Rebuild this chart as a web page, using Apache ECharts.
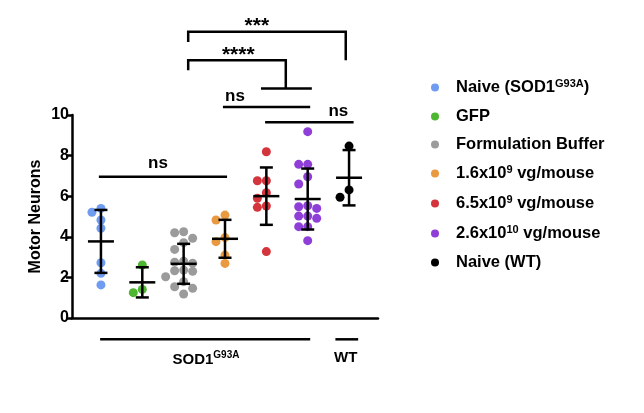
<!DOCTYPE html>
<html><head><meta charset="utf-8">
<script src="https://cdn.jsdelivr.net/npm/echarts@6/dist/echarts.min.js"></script>
<style>html,body{margin:0;padding:0;background:#fff}#c{width:644px;height:413px}</style>
</head><body><div id="c"></div>
<script>
// ---------- data ----------
const groupNames = ['Naive (SOD1^{G93A})', 'GFP', 'Formulation Buffer', '1.6x10^{9} vg/mouse', '6.5x10^{9} vg/mouse', '2.6x10^{10} vg/mouse', 'Naive (WT)'];
const naiveSOD1 = [5.40, 5.21, 4.83, 4.42, 2.72, 2.20, 1.63];
const gfp = [2.61, 1.41, 1.25];
const formulationBuffer = [4.25, 4.20, 3.93, 3.71, 3.38, 2.80, 2.75, 2.70, 2.36, 2.30, 2.33, 2.03, 1.79, 1.54, 1.46, 1.18];
const dose1_6e9 = [5.07, 4.83, 3.96, 3.76, 3.10, 2.69];
const dose6_5e9 = [8.19, 6.76, 6.76, 6.17, 5.90, 5.52, 5.45, 3.27];
const dose2_6e10 = [9.18, 7.57, 7.57, 6.96, 6.60, 5.53, 5.48, 5.40, 5.02, 5.02, 4.91, 4.50, 4.50, 3.81];
const naiveWT = [8.47, 6.31, 5.95];
const yTickValues = [0, 2, 4, 6, 8, 10];
const groupColors = ['#6f9cf0', '#4fb631', '#9b9b9b', '#e99a40', '#d4343b', '#8f3fd8', '#000000'];

// significance annotations (group index on x, Motor Neurons value on y)
const sigLines = [
  {text: 'ns',   paths: [[[0.95, 6.96], [4.05, 6.96]]], labelAt: [2.38, 7.62]},
  {text: 'ns',   paths: [[[3.95, 10.40], [6.06, 10.40]]], labelAt: [4.24, 10.92]},
  {text: 'ns',   paths: [[[4.97, 9.64], [7.11, 9.64]]], labelAt: [6.74, 10.18]},
  {text: '****', paths: [[[4.87, 11.30], [6.10, 11.30]], [[5.47, 11.30], [5.47, 12.70], [3.11, 12.70], [3.11, 12.20]]], labelAt: [4.32, 12.88]},
  {text: '***',  paths: [[[3.11, 13.60], [3.11, 14.10], [6.92, 14.10], [6.92, 12.70]]], labelAt: [4.77, 14.32]}
];
const genotypeLabels = [
  {text: 'SOD1^{G93A}', span: [0.98, 6.06], level: -1.05, labelAt: [3.54, -2.07]},
  {text: 'WT', span: [6.67, 7.22], level: -1.05, labelAt: [6.92, -1.95]}
];

const allGroups = [naiveSOD1, gfp, formulationBuffer, dose1_6e9, dose6_5e9, dose2_6e10, naiveWT];

// ---------- helpers ----------
const FONT = '"Liberation Sans", Arial, Helvetica, sans-serif';
function toRich(s) {
  const parts = s.split(/\^\{([^}]*)\}/);
  return parts.map((p, i) => p === '' ? '' : (i % 2 ? '{sup|' + p + '}' : '{b|' + p + '}')).join('');
}
function mean(a) { return a.reduce((s, v) => s + v, 0) / a.length; }
function sd(a) { const m = mean(a); return Math.sqrt(a.reduce((s, v) => s + (v - m) * (v - m), 0) / (a.length - 1)); }

const chart = echarts.init(document.getElementById('c'), null, {renderer: 'canvas'});

const baseOption = {
  animation: false,
  backgroundColor: '#fff',
  grid: {left: 72, right: 266, top: 115, bottom: 95, containLabel: false},
  xAxis: {
    type: 'value', min: 0.3, max: 7.7,
    axisLine: {show: true, lineStyle: {color: '#000', width: 2.5}},
    axisTick: {show: false}, axisLabel: {show: false}, splitLine: {show: false}
  },
  yAxis: {
    type: 'value', min: yTickValues[0], max: yTickValues[yTickValues.length - 1], interval: 2,
    name: 'Motor Neurons', nameLocation: 'middle', nameRotate: 90, nameGap: 28,
    nameTextStyle: {fontFamily: FONT, fontWeight: 'bold', fontSize: 16, color: '#000'},
    axisLine: {show: true, lineStyle: {color: '#000', width: 2.5}},
    axisTick: {show: true, length: 6, lineStyle: {color: '#000', width: 2.5}},
    axisLabel: {margin: 3, fontFamily: FONT, fontWeight: 'bold', fontSize: 16, color: '#000'},
    splitLine: {show: false}
  },
  series: []
};
chart.setOption(baseOption);

// beeswarm-like horizontal spreading (computed through the axes)
function swarm(values, gi) {
  const order = values.map((v, i) => i).sort((a, b) => values[b] - values[a]);
  const placed = [];
  const out = new Array(values.length);
  const steps = [0, -1, 1, -2, 2, -3, 3];
  order.forEach(i => {
    const p = chart.convertToPixel({gridIndex: 0}, [gi, values[i]]);
    for (const k of steps) {
      const px = p[0] + k * 9;
      if (placed.every(q => Math.hypot(q[0] - px, q[1] - p[1]) >= 8)) {
        placed.push([px, p[1]]);
        out[i] = chart.convertFromPixel({gridIndex: 0}, [px, p[1]])[0];
        break;
      }
    }
    if (out[i] === undefined) out[i] = gi;
  });
  return values.map((v, i) => [out[i], v]);
}

const series = [];
allGroups.forEach((vals, i) => {
  series.push({
    name: groupNames[i], type: 'scatter', symbol: 'circle', symbolSize: 9,
    itemStyle: {color: groupColors[i], opacity: 1},
    data: swarm(vals, i + 1), z: 2, silent: true
  });
});

const lineStyle = {stroke: '#000', lineWidth: 2.5};
series.push({
  type: 'custom', name: 'meanSD', silent: true, z: 5, clip: false,
  encode: {x: 0, y: 1},
  data: allGroups.map((v, i) => [i + 1, mean(v), sd(v)]),
  renderItem: function (params, api) {
    const x = api.value(0), m = api.value(1), s = api.value(2);
    const c = api.coord([x, m]), t = api.coord([x, m + s]), b = api.coord([x, m - s]);
    return {type: 'group', children: [
      {type: 'line', shape: {x1: c[0] - 13, y1: c[1], x2: c[0] + 13, y2: c[1]}, style: lineStyle},
      {type: 'line', shape: {x1: c[0], y1: t[1], x2: c[0], y2: b[1]}, style: lineStyle},
      {type: 'line', shape: {x1: c[0] - 6.5, y1: t[1], x2: c[0] + 6.5, y2: t[1]}, style: lineStyle},
      {type: 'line', shape: {x1: c[0] - 6.5, y1: b[1], x2: c[0] + 6.5, y2: b[1]}, style: lineStyle}
    ]};
  }
});

series.push({
  type: 'custom', name: 'significance', silent: true, z: 6, clip: false,
  encode: {x: 0, y: 1},
  data: sigLines.map(s => [s.labelAt[0], s.labelAt[1]]),
  renderItem: function (params, api) {
    const s = sigLines[params.dataIndex];
    const children = s.paths.map(path => ({
      type: 'polyline', shape: {points: path.map(p => api.coord(p))},
      style: {stroke: '#000', lineWidth: 2.5, fill: null, lineJoin: 'miter'}
    }));
    const lp = api.coord(s.labelAt);
    const star = s.text.indexOf('*') >= 0;
    children.push({type: 'text', x: lp[0], y: lp[1] + (star ? -1 : 0), style: {
      text: s.text, fill: '#000', font: 'bold ' + (star ? 21 : 17) + 'px ' + FONT,
      textAlign: 'center', textVerticalAlign: 'middle'
    }});
    return {type: 'group', children: children};
  }
});

series.push({
  type: 'custom', name: 'genotype', silent: true, z: 6, clip: false,
  encode: {x: 0, y: 1},
  data: genotypeLabels.map(g => [g.labelAt[0], g.labelAt[1]]),
  renderItem: function (params, api) {
    const g = genotypeLabels[params.dataIndex];
    const a = api.coord([g.span[0], g.level]), b = api.coord([g.span[1], g.level]);
    const lp = api.coord(g.labelAt);
    return {type: 'group', children: [
      {type: 'line', shape: {x1: a[0], y1: a[1], x2: b[0], y2: b[1]}, style: lineStyle},
      {type: 'text', x: lp[0], y: lp[1], style: {
        text: toRich(g.text), textAlign: 'center', textVerticalAlign: 'middle', fill: '#000',
        rich: {
          b: {fontFamily: FONT, fontWeight: 'bold', fontSize: 15, lineHeight: 20, color: '#000'},
          sup: {fontFamily: FONT, fontWeight: 'bold', fontSize: 10, lineHeight: 20, color: '#000', padding: [0, 0, 9, 0]}
        }
      }}
    ]};
  }
});

chart.setOption({
  legend: {
    data: groupNames.map(n => ({name: n, icon: 'circle'})),
    orient: 'vertical', left: 426, top: 73,
    itemWidth: 32, itemHeight: 8, itemGap: 11,
    selectedMode: false,
    formatter: n => toRich(n),
    textStyle: {
      fontFamily: FONT, fontWeight: 'bold', fontSize: 16.5, color: '#000',
      rich: {
        b: {fontFamily: FONT, fontWeight: 'bold', fontSize: 16.5, lineHeight: 20, color: '#000'},
        sup: {fontFamily: FONT, fontWeight: 'bold', fontSize: 11, lineHeight: 20, color: '#000', padding: [0, 0, 8, 0]}
      }
    }
  },
  series: series
});
</script>
</body></html>
